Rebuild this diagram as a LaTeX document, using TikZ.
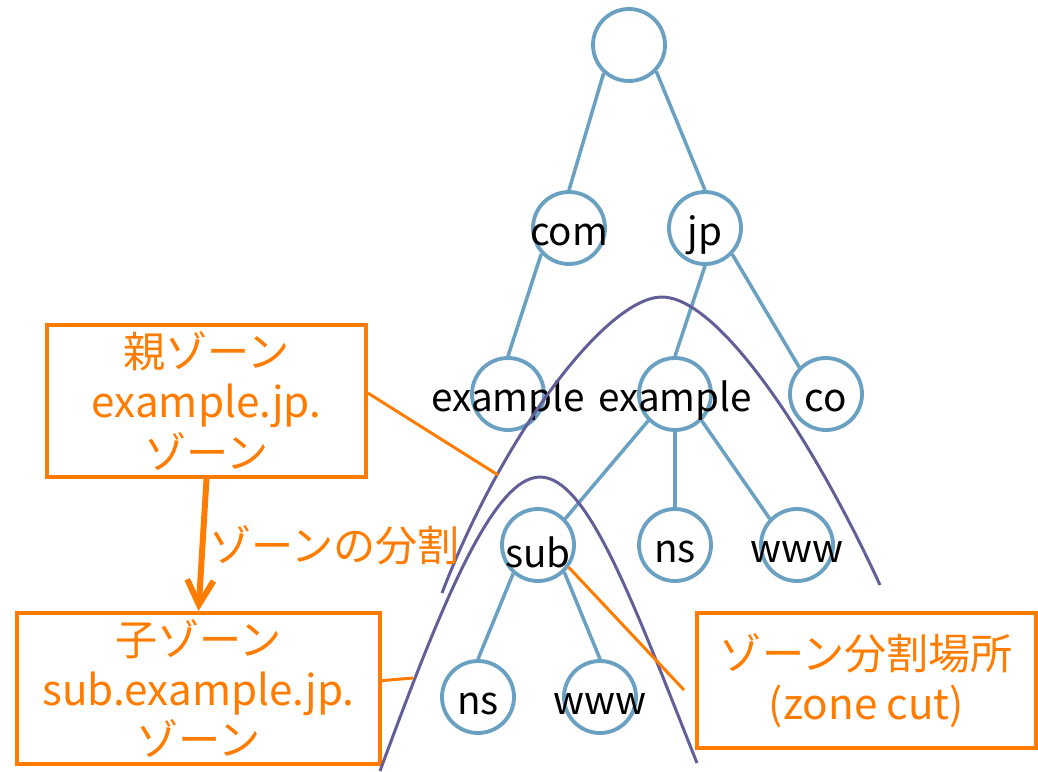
\documentclass[tikz,border=0pt]{standalone}
\usepackage{fontspec}
\setmainfont{Noto Sans CJK JP}
\usetikzlibrary{arrows.meta}
\definecolor{treeblue}{RGB}{106,161,194}
\definecolor{cutpurple}{RGB}{98,94,152}
\definecolor{zoneorange}{RGB}{255,124,0}
\newcommand{\Tzone}{ゾーン}
\newcommand{\Tdom}{example.jp.}
\tikzstyle{dom} = [circle,draw=treeblue,line width=2.2pt,minimum size=1.44cm,inner sep=0pt]
\tikzstyle{zonebox} = [draw=zoneorange,line width=2.3pt,text=zoneorange,align=center,inner sep=0pt,font=\fontsize{24}{28.5}\selectfont]

\begin{document}
\begin{tikzpicture}[x=0.02cm, y=-0.02cm,
  every label/.style={font=\fontsize{22}{22}\selectfont, yshift=-4pt, inner sep=0pt},
  branch/.style={draw=treeblue, line width=2pt},
  cut/.style={draw=cutpurple, line width=1.7pt},
  pointer/.style={draw=zoneorange, line width=1.7pt}]
\useasboundingbox (0,0) rectangle (1038,771);

% Define nodes
\node[dom]                          (root)   at (629,45)  {};
\node[dom, label=center:com]        (com)    at (569,228) {};
\node[dom, label=center:jp]         (jp)     at (705,228) {};
\node[dom, label=center:example]    (ex1)    at (508,394) {};
\node[dom, label=center:example]    (ex2)    at (675,394) {};
\node[dom, label=center:co]         (co)     at (826,394) {};
\node[dom, label=center:sub]        (sub)    at (538,545) {};
\node[dom, label=center:ns]         (ns)     at (675,545) {};
\node[dom, label=center:www]        (www)    at (797,545) {};
\node[dom, label=center:ns]         (subns)  at (478,697) {};
\node[dom, label=center:www]        (subwww) at (600,697) {};

\node[zonebox, minimum width=6.38cm, minimum height=3.04cm] (parent) at (206.5,401)   {親\Tzone\\\Tdom\\\Tzone};
\node[zonebox, minimum width=7.26cm, minimum height=3.02cm] (child)  at (198.5,688.5) {子\Tzone\\sub.\Tdom\\\Tzone};
\node[zonebox, minimum width=6.78cm, minimum height=2.7cm]  (cutbox) at (866.5,680.5) {\Tzone 分割場所\\(zone cut)};

\coordinate (pcut) at (498,475);
\coordinate (ccut) at (413,678);
\coordinate (scut) at (684,690);

% Edges
\draw[branch] (root.-132) -- (com.north);
\draw[branch] (root.-44)  -- (jp.north);
\draw[branch] (com.-137)  -- (ex1.north);
\draw[branch] (jp.south)  -- (ex2.north);
\draw[branch] (jp.-44)    -- (co.135);
\draw[branch] (ex2.-135)  -- (sub.44);
\draw[branch] (ex2.south) -- (ns.north);
\draw[branch] (ex2.-45)   -- (www.136);
\draw[branch] (sub.-131)  -- (subns.north);
\draw[branch] (sub.-46)   -- (subwww.north);

% Zone cuts
\draw[cut] (442,593) .. controls (503,434) and (607,297) .. (662,297)
                     .. controls (717,297) and (809,431) .. (880,585);
\draw[cut] (380,771) .. controls (439,611) and (492,477) .. (540,477)
                     .. controls (588,477) and (634,605) .. (697,763);

\draw[pointer] ([yshift=4.5pt]parent.east) -- (pcut);
\draw[pointer] ([yshift=4.5pt]child.east)  -- (ccut);
\draw[pointer] (sub.-36) -- (scut);

\draw[draw=zoneorange, line width=3.4pt, -{Straight Barb[length=14pt,width=15pt]}]
  (parent.south) -- (child.north)
  node[pos=0.5, anchor=west, inner sep=2pt, text=zoneorange, font=\fontsize{24}{24}\selectfont] {\Tzone の分割};
\end{tikzpicture}
\end{document}
